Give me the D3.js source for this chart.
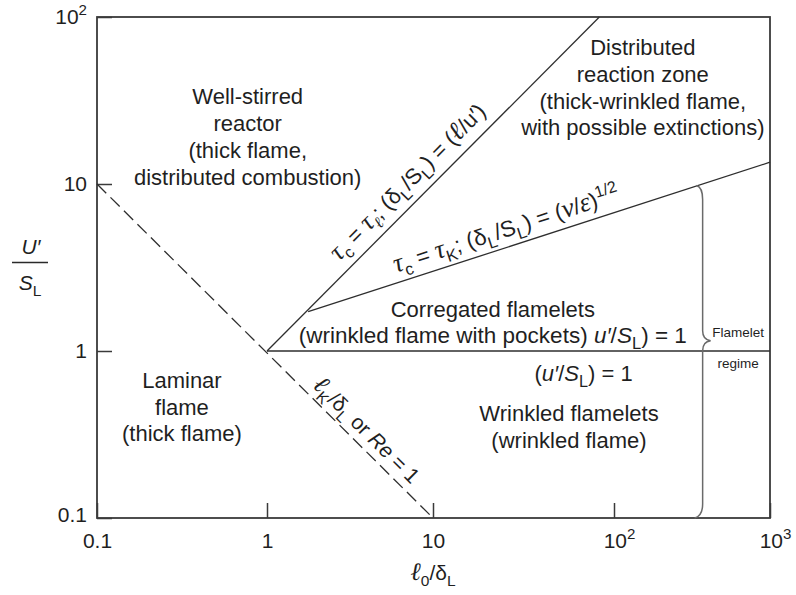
<!DOCTYPE html>
<html>
<head>
<meta charset="utf-8">
<script src="https://cdn.jsdelivr.net/npm/d3@7"></script>
<style>
  html, body { margin: 0; padding: 0; background: #fff; }
  svg { display: block; }
  text { font-family: "Liberation Sans", Arial, Helvetica, sans-serif; fill: #1f1f1f; }
</style>
</head>
<body>
<svg id="chart" width="796" height="595"></svg>
<script>
// ---- decades on each axis and their labels ([base, superscript]) ----
const xDecades = [0.1, 1, 10, 100, 1000];
const yDecades = [0.1, 1, 10, 100];
const xTickLabels = [["0.1"], ["1"], ["10"], ["10", "2"], ["10", "3"]];
const yTickLabels = [["0.1"], ["1"], ["10"], ["10", "2"]];

// ---- regime boundaries, points given as [ℓ0/δL, u'/SL] ----
const reBoundary = [[0.1, 10], [10, 0.1]];              // ℓK/δL = 1 (Re = 1), dashed
const integralBoundary = [[1, 1], [83, 100]];            // τc = τℓ
const kolmogorovBoundary = [[1.77, 1.72], [1000, 13.5]]; // τc = τK
const unitIntensity = [[1, 1], [1000, 1]];               // u'/SL = 1

// ---- flamelet-regime brace: abscissa and [upper end, tip, lower end] ----
const braceX = 370;
const braceY = [9.8, 1.15, 0.1];

// ---- region names ----
const wellStirred = ["Well-stirred", "reactor", "(thick flame,", "distributed combustion)"];
const distributed = ["Distributed", "reaction zone", "(thick-wrinkled flame,", "with possible extinctions)"];
const laminar = ["Laminar", "flame", "(thick flame)"];
const wrinkled = ["Wrinkled flamelets", "(wrinkled flame)"];
const corrugatedTitle = "Corregated flamelets";
const corrugatedSub = [["(wrinkled flame with pockets) "], ["u′", "it"], ["/"], ["S", "it"], ["L", "sub"], [") = 1"]];
const unitLabel = [["("], ["u′", "it"], ["/"], ["S", "it"], ["L", "sub"], [") = 1"]];
const flameletLabel = ["Flamelet", "regime"];

// ---- boundary labels ----
const integralLabel = [["τ", "serif it big"], ["c", "sub"], [" = "], ["τ", "serif it big"], ["ℓ", "sub serif it"],
  ["; ("], ["δ"], ["L", "sub"], ["/S"], ["L", "sub"], [") = ("], ["ℓ", "serif it big"], ["/u′)"]];
const kolmogorovLabel = [["τ", "serif it big"], ["c", "sub"], [" = "], ["τ", "serif it big"], ["K", "sub"],
  ["; ("], ["δ"], ["L", "sub"], ["/S"], ["L", "sub"], [") = ("], ["ν", "serif it big"], ["/"], ["ε", "serif it big"],
  [")"], ["1/2", "sup"]];
const reLabel = [["ℓ", "serif it big"], ["K", "sub"], ["/δ"], ["L", "sub"], [" or "], ["Re", "it"], [" = 1"]];
const xTitle = [["ℓ", "serif it big"], ["0", "sub"], ["/δ"], ["L", "sub"]];

// ================= drawing =================
const svg = d3.select("#chart");
const INK = "#2e2e2e";

// log axes; the horizontal one follows the decade positions of the printed grid
const x = d3.scaleLog().domain(xDecades).range([97, 267, 433, 614, 770]);
const y = d3.scaleLog().domain([0.1, 100]).range([518, 17]);

const SERIF = "'Liberation Serif', 'DejaVu Serif', serif";

// writes a run of text pieces, handling sub/superscripts and font switches
function rich(textSel, parts, fs) {
  let shift = 0;
  parts.forEach(([str, kind]) => {
    const k = kind || "";
    let target = 0, size = null;
    if (k.includes("sub")) { target = 0.28 * fs; size = 0.74 * fs; }
    if (k.includes("sup")) { target = -0.42 * fs; size = 0.72 * fs; }
    if (k.includes("big")) size = 1.2 * fs;
    const ts = textSel.append("tspan").text(str);
    if (target - shift !== 0) ts.attr("dy", target - shift);
    shift = target;
    if (size) ts.attr("font-size", size);
    if (k.includes("it")) ts.attr("font-style", "italic");
    if (k.includes("serif")) ts.attr("font-family", SERIF);
  });
}

// frame
svg.append("rect")
  .attr("x", x(0.1)).attr("y", y(100))
  .attr("width", x(1000) - x(0.1)).attr("height", y(0.1) - y(100))
  .attr("fill", "none").attr("stroke", "#3a3a3a").attr("stroke-width", 1.8);

// axes with inward ticks
const xAxis = d3.axisBottom(x).tickValues(xDecades).tickSize(-15).tickPadding(15).tickFormat(() => "");
const yAxis = d3.axisLeft(y).tickValues(yDecades).tickSize(-15).tickPadding(10).tickFormat(() => "");

const gx = svg.append("g").attr("transform", `translate(0,${y(0.1)})`).call(xAxis);
const gy = svg.append("g").attr("transform", `translate(${x(0.1)},0)`).call(yAxis);
[gx, gy].forEach(g => {
  g.select(".domain").remove();
  g.attr("font-family", null).attr("font-size", null);
  g.selectAll(".tick line").attr("stroke", "#3a3a3a").attr("stroke-width", 1.5);
});
gx.selectAll(".tick text").each(function (d, i) {
  const t = d3.select(this).attr("font-size", 21).attr("fill", "#1f1f1f").text(null);
  const lab = xTickLabels[i];
  if (lab.length > 1) t.attr("dx", 5);
  rich(t, lab.length > 1 ? [[lab[0]], [lab[1], "sup"]] : [[lab[0]]], 21);
});
gy.selectAll(".tick text").each(function (d, i) {
  const t = d3.select(this).attr("font-size", 21).attr("fill", "#1f1f1f").text(null);
  const lab = yTickLabels[i];
  if (i === 0) t.attr("dy", "0.15em");
  rich(t, lab.length > 1 ? [[lab[0]], [lab[1], "sup"]] : [[lab[0]]], 21);
});

// boundaries
const line = d3.line().x(d => x(d[0])).y(d => y(d[1]));
const lines = svg.append("g").attr("fill", "none").attr("stroke", INK).attr("stroke-width", 1.3);
lines.append("path").attr("d", line(reBoundary)).attr("stroke-dasharray", "13,6");
lines.append("path").attr("d", line(integralBoundary));
lines.append("path").attr("d", line(kolmogorovBoundary));
lines.append("path").attr("d", line(unitIntensity));

// brace marking the flamelet regime
{
  const bx = x(braceX), [yt, yTip, yb] = braceY.map(y);
  const p = d3.path();
  p.moveTo(bx - 6, yt);
  p.quadraticCurveTo(bx, yt + 2, bx, yt + 14);
  p.lineTo(bx, yTip - 10);
  p.quadraticCurveTo(bx, yTip - 1, bx + 8, yTip);
  p.quadraticCurveTo(bx, yTip + 1, bx, yTip + 10);
  p.lineTo(bx, yb - 14);
  p.quadraticCurveTo(bx, yb - 2, bx - 8, yb);
  svg.append("path").attr("d", p.toString()).attr("fill", "none")
    .attr("stroke", "#6a6a6a").attr("stroke-width", 1.5);
}

// centred multi-line block, first baseline at (cx, cy) in data units
function block(lines, cx, cy, fs, lh) {
  const t = svg.append("text").attr("text-anchor", "middle").attr("font-size", fs)
    .attr("x", x(cx)).attr("y", y(cy));
  lines.forEach((s, i) => t.append("tspan").attr("x", x(cx)).attr("dy", i ? lh : 0).text(s));
  return t;
}
block(wellStirred, 0.77, 30, 22, 27);
block(distributed, 153, 59, 22, 26.7);
block(laminar, 0.316, 0.6, 22, 26.5);
block(wrinkled, 56.4, 0.381, 22, 27);
block(flameletLabel, 624, 1.21, 13.5, 31);
block([corrugatedTitle], 21.4, 1.6, 22, 0);
rich(svg.append("text").attr("text-anchor", "middle").attr("font-size", 22.5)
  .attr("x", x(21.4)).attr("y", y(1.12)), corrugatedSub, 22.5);
rich(svg.append("text").attr("text-anchor", "middle").attr("font-size", 22)
  .attr("x", x(67.9)).attr("y", y(0.66)), unitLabel, 22);

// labels laid along a boundary: fraction along the segment, offset to the upper side of its direction
function along(seg, frac, offset, parts, fs) {
  const [a, b] = seg.map(d => [x(d[0]), y(d[1])]);
  const dx = b[0] - a[0], dy = b[1] - a[1];
  const len = Math.hypot(dx, dy);
  const ux = dx / len, uy = dy / len;
  const px = a[0] + ux * len * frac, py = a[1] + uy * len * frac;
  const nx = uy, ny = -ux;
  const cx = px + nx * offset, cy = py + ny * offset;
  const ang = Math.atan2(uy, ux) * 180 / Math.PI;
  const t = svg.append("text").attr("text-anchor", "middle").attr("font-size", fs)
    .attr("transform", `translate(${cx},${cy}) rotate(${ang})`);
  rich(t, parts, fs);
}
along(integralBoundary, 0.465, 12, integralLabel, 22);
along(kolmogorovBoundary, 0.44, 10, kolmogorovLabel, 22.5);
along(reBoundary, 0.77, 8, reLabel, 21);

// axis titles
rich(svg.append("text").attr("text-anchor", "middle").attr("font-size", 21)
  .attr("x", 433).attr("y", 580), xTitle, 21);
svg.append("text").attr("text-anchor", "middle").attr("font-size", 21).attr("font-style", "italic")
  .attr("x", 31).attr("y", 254).text("U′");
svg.append("line").attr("x1", 12).attr("x2", 48).attr("y1", 262.5).attr("y2", 262.5)
  .attr("stroke", "#2a2a2a").attr("stroke-width", 1.5);
rich(svg.append("text").attr("text-anchor", "middle").attr("font-size", 21)
  .attr("x", 30).attr("y", 290), [["S", "it"], ["L", "sub"]], 21);
</script>
</body>
</html>
